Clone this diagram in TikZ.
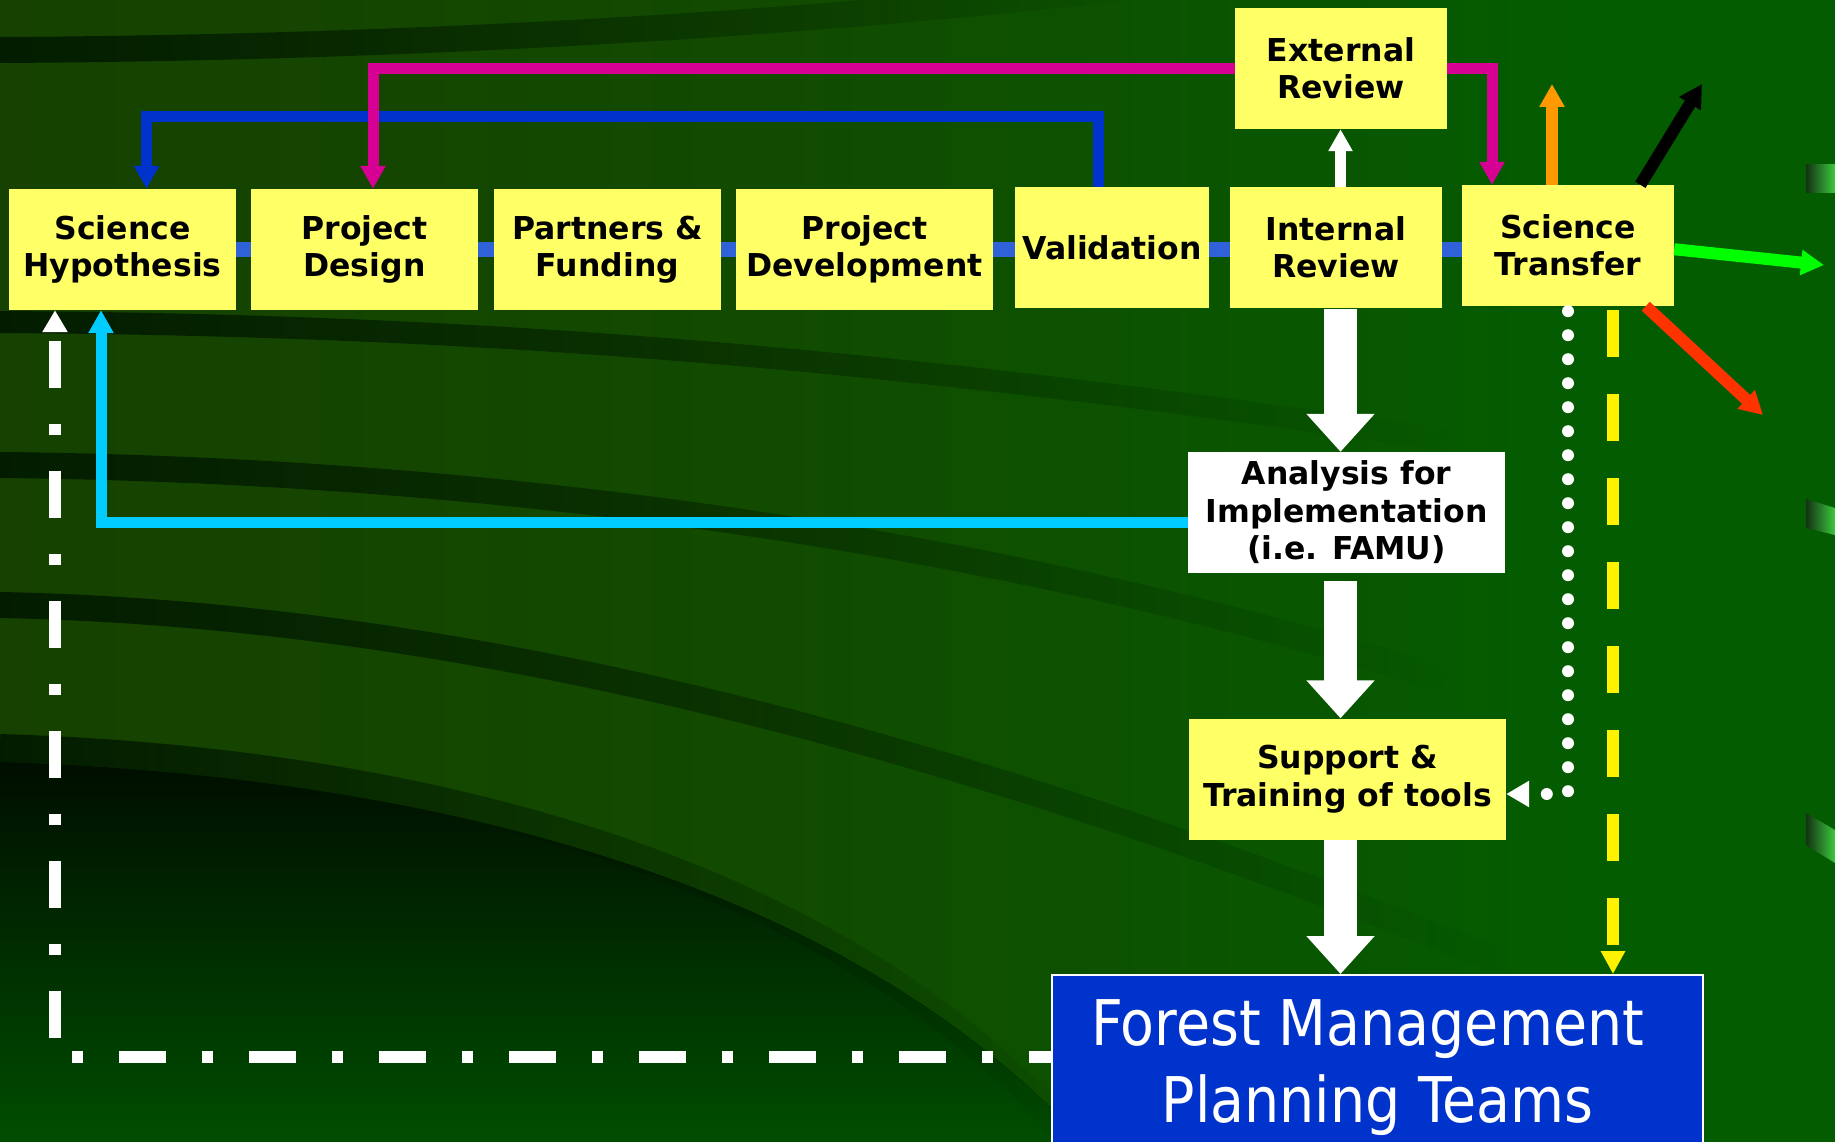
\documentclass[tikz,border=0pt]{standalone}
\usepackage{fontspec}
\setmainfont{DejaVu Sans}
\newfontfamily\teamfont[FakeStretch=0.88]{DejaVu Sans}
\usepackage{tikz}
\usetikzlibrary{arrows.meta}
\usetikzlibrary{fadings}

\definecolor{boxyellow}{RGB}{255,255,102}
\definecolor{linkblue}{RGB}{47,98,216}
\definecolor{backblue}{RGB}{0,51,204}
\definecolor{backmagenta}{RGB}{214,0,147}
\definecolor{backcyan}{RGB}{0,204,255}
\definecolor{teamblue}{RGB}{0,51,204}
\definecolor{outorange}{RGB}{255,153,0}
\definecolor{outgreen}{RGB}{0,255,0}
\definecolor{outred}{RGB}{255,51,0}
\definecolor{bgA}{RGB}{28,54,0}
\definecolor{bgB}{RGB}{18,74,0}
\definecolor{bgC}{RGB}{4,92,0}
\definecolor{bgD}{RGB}{0,96,0}
\definecolor{bandcol}{RGB}{0,22,0}
\definecolor{tabdark}{RGB}{20,50,20}
\definecolor{tablight}{RGB}{60,200,60}

\pgfdeclarehorizontalshading{bgshade}{100bp}{color(0bp)=(bgA); color(45bp)=(bgB); color(68bp)=(bgC); color(100bp)=(bgD)}
\tikzfading[name=fade right, left color=transparent!0, right color=transparent!100]

\begin{document}
\begin{tikzpicture}[x=1pt, y=-1pt,
        stagebox/.style={fill=boxyellow, inner sep=0pt, minimum height=121pt, align=center,
            font=\fontsize{31.5}{37.5}\selectfont\bfseries},
        linkbar/.style={linkblue, line width=15pt},
        backarrow/.style={line width=11pt, -{Triangle[width=24pt,length=23pt]}},
        outarrow/.style={line width=12pt, -{Triangle[width=24pt,length=23pt]}},
        flowarrow/.style={white, line width=33pt, -{Triangle[width=66pt,length=38pt]}},
        bgband/.style={bandcol, line width=26pt, draw opacity=0.85, path fading=fade right}]
    \useasboundingbox (0,0) rectangle (1835,1142);
    \clip (0,0) rectangle (1835,1142);

    \shade[shading=bgshade] (0,0) rectangle (1835,1142);
    \draw[bgband] (0,50) .. controls (400,48) and (800,25) .. (1150,-15);
    \draw[bgband, line width=22pt] (0,322) .. controls (500,325) and (900,360) .. (1450,440);
    \draw[bgband] (0,465) .. controls (500,470) and (1000,540) .. (1450,680);
    \draw[bgband] (0,605) .. controls (500,615) and (1000,760) .. (1500,960);
    \fill[top color={rgb,255:red,0;green,14;blue,0}, bottom color={rgb,255:red,0;green,80;blue,0}]
        (0,762) .. controls (400,775) and (850,870) .. (1100,1160) -- (0,1160) -- cycle;
    \draw[bgband, line width=28pt] (0,748) .. controls (400,760) and (850,860) .. (1090,1160);
    \shade[left color=tabdark, right color=tablight] (1806,165) rectangle (1835,193);
    \shade[left color=tabdark, right color=tablight] (1806,499) -- (1835,508) -- (1835,535) -- (1806,528) -- cycle;
    \shade[left color=tabdark, right color=tablight] (1806,813) -- (1835,830) -- (1835,863) -- (1806,845) -- cycle;

    \foreach \name/\x/\y/\w/\txt in {
            sci/122.5/249.5/227/{Science\\Hypothesis},
            design/364.5/249.5/227/{Project\\Design},
            partners/607.5/249.5/227/{Partners \&\\Funding},
            dev/864.5/249.5/257/{Project\\Development},
            valid/1112/247.5/194/{Validation},
            internal/1336/247.5/212/{Internal\\Review},
            transfer/1568/245.5/212/{Science\\Transfer},
            external/1341/68.5/212/{External\\Review},
            support/1347.5/779/317/{Support \&\\Training of tools}} {
        \node[stagebox, minimum width=\w] (\name) at (\x,\y) {\txt};
    }
    \node[stagebox, fill=white, minimum width=317] (analysis) at (1346.5,512.5)
        {Analysis for\\Implementation\\(i.e. FAMU)};
    \node[fill=teamblue, draw=white, line width=2pt, text=white, inner sep=0pt,
        minimum width=651pt, minimum height=186pt, align=center,
        font=\teamfont\fontsize{63}{77}\selectfont] (forest) at (1377.5,1068)
        {Forest Management\kern20pt\\Planning Teams};

    \foreach \a/\b in {sci/design,design/partners,partners/dev,dev/valid,valid/internal,internal/transfer} {
        \draw[linkbar] (\a.east |- sci.east) -- (\b.west |- sci.east);
    }

    \coordinate (spine) at (1340.5,0);
    \draw[flowarrow, shorten <=1pt] (spine |- internal.south) -- (spine |- analysis.north);
    \draw[flowarrow, shorten <=8pt] (spine |- analysis.south) -- (spine |- support.north);
    \draw[flowarrow] (spine |- support.south) -- (spine |- forest.north);
    \draw[white, line width=11pt, -{Triangle[width=23pt,length=22pt]}] (spine |- internal.north) -- (spine |- external.south);

    \draw[backarrow, backblue] ([xshift=-14pt]valid.north) -- ++(0,-70) -| ([xshift=24pt]sci.north);
    \draw[backarrow, backmagenta] (external.west) -| ([xshift=8.5pt]design.north);
    \draw[backarrow, backmagenta] (external.east) -| ([xshift=-76pt]transfer.north);
    \draw[backarrow, backcyan] ([yshift=-9.5pt]analysis.west) -| ([xshift=-21.5pt]sci.south);

    \coordinate (dcorner) at (55,1057);
    \draw[white, line width=11.5pt, dash pattern=on 47pt off 36pt on 11pt off 36pt, dash phase=120pt,
        {Triangle[width=24pt,length=22pt]}-] ([xshift=-67.5pt]sci.south) -- (dcorner) -- (dcorner -| forest.west);

    \draw[white, line width=12pt, line cap=round, dash pattern=on 0pt off 24pt, shorten <=5pt,
        -{Triangle[width=25pt,length=23pt]}] (transfer.south) |- ([yshift=-15pt]support.east);
    \coordinate (ylw) at ([xshift=45pt]transfer.south);
    \draw[yellow, line width=12pt, dash pattern=on 47pt off 37pt, shorten <=4pt,
        -{Triangle[width=23pt,length=23pt]}] (ylw) -- (ylw |- forest.north);

    \coordinate (orangetip) at (1552,84);
    \coordinate (blacktip) at (1702,84);
    \coordinate (greentip) at (1824,265);
    \coordinate (redtip) at (1763,415);
    \draw[outarrow, outorange] (transfer.north -| orangetip) -- (orangetip);
    \draw[outarrow, black] (transfer.40) -- (blacktip);
    \draw[outarrow, outgreen] (transfer.-2) -- (greentip);
    \draw[outarrow, outred] (transfer.-38) -- (redtip);
\end{tikzpicture}
\end{document}
